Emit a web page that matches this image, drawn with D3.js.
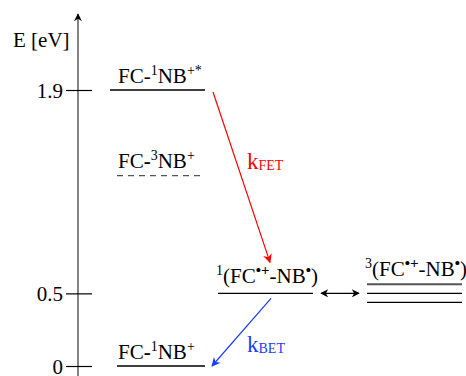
<!DOCTYPE html>
<html>
<head>
<meta charset="utf-8">
<script src="https://cdn.jsdelivr.net/npm/d3@7/dist/d3.min.js"></script>
<style>
  html, body { margin: 0; padding: 0; background: #fff; }
  svg text { font-family: "Liberation Serif", "DejaVu Serif", serif; }
</style>
</head>
<body>
<svg id="chart" width="466" height="376"></svg>
<script>
// Energy levels (eV)
const stateIds      = ["S1", "T1", "CSS1", "CSS3", "GS"];
const stateEnergies = [1.9, 1.31, 0.5, 0.5, 0];
const stateColumns  = ["left", "left", "mid", "right", "left"];
const stateStyles   = ["solid", "dashed", "solid", "triple", "solid"];
const tickValues    = [0, 0.5, 1.9];
const tickLabels    = ["0", "0.5", "1.9"];

// Transfer processes: [from, to]
const processNames = ["FET", "BET"];
const processFrom  = ["S1", "CSS1"];
const processTo    = ["CSS1", "GS"];

const FONT = "'Liberation Serif', 'DejaVu Serif', serif";
const FS = 21;
const svg = d3.select("#chart");

const y = d3.scaleLinear().domain([0, 1.9]).range([366, 90]);

// horizontal extents of each column of levels
const columns = {
  left:  { x0: 110, x1: 205 },
  mid:   { x0: 218, x1: 313 },
  right: { x0: 367, x1: 462 }
};
const colExtent = (id) => {
  const i = stateIds.indexOf(id);
  const c = columns[stateColumns[i]];
  if (id === "T1" || id === "GS") return { x0: 117, x1: 205 };
  return c;
};

// ---- axis ----
const axisX = 78;
const defs = svg.append("defs");
defs.append("marker")
  .attr("id", "axisHead").attr("viewBox", "0 0 10 10")
  .attr("refX", 9).attr("refY", 5)
  .attr("markerWidth", 8).attr("markerHeight", 10)
  .attr("markerUnits", "userSpaceOnUse").attr("orient", "auto")
  .append("path").attr("d", "M0,0 L10,5 L0,10 L3,5 Z").attr("fill", "#000");

svg.append("line")
  .attr("x1", axisX).attr("x2", axisX)
  .attr("y1", 376).attr("y2", 14)
  .attr("stroke", "#333").attr("stroke-width", 1.2)
  .attr("marker-end", "url(#axisHead)");

const axis = d3.axisLeft(y)
  .tickValues(tickValues)
  .tickFormat((d, i) => tickLabels[i])
  .tickSize(12)
  .tickPadding(3);

const gAxis = svg.append("g")
  .attr("transform", `translate(${axisX},0)`)
  .call(axis)
  .attr("font-family", FONT)
  .attr("font-size", FS);
gAxis.select(".domain").remove();
gAxis.selectAll(".tick line")
  .attr("x1", -12).attr("x2", 14)
  .attr("stroke", "#000").attr("stroke-width", 1.2);
gAxis.selectAll(".tick text")
  .attr("fill", "#000")
  .attr("dy", "0.35em");

svg.append("text")
  .attr("x", 13).attr("y", 47)
  .attr("font-family", FONT)
  .attr("font-size", FS)
  .text("E [eV]");

// ---- energy levels ----
stateIds.forEach((id, i) => {
  const e = colExtent(id);
  const yy = y(stateEnergies[i]);
  const style = stateStyles[i];
  if (style === "triple") {
    [-9, 0, 9].forEach((off, k) => {
      svg.append("line")
        .attr("x1", e.x0).attr("x2", e.x1)
        .attr("y1", yy + off).attr("y2", yy + off)
        .attr("stroke", k === 0 ? "#555" : "#000")
        .attr("stroke-width", k === 0 ? 2 : 1.3);
    });
  } else {
    svg.append("line")
      .attr("x1", e.x0).attr("x2", e.x1)
      .attr("y1", yy).attr("y2", yy)
      .attr("stroke", style === "dashed" ? "#555" : "#000")
      .attr("stroke-width", 1.3)
      .attr("stroke-dasharray", style === "dashed" ? "6,5" : null);
  }
});

// ---- level labels ----
// parts: [text, kind] where kind: n = normal, s = superscript, b = bold
function label(x, yb, parts, color) {
  const t = svg.append("text").attr("x", x).attr("y", yb)
    .attr("font-family", FONT)
    .attr("font-size", FS).attr("fill", color || "#000");
  let shift = 0;
  parts.forEach(([txt, kind]) => {
    const ts = t.append("tspan").text(txt);
    let target = 0;
    if (kind === "s") { ts.attr("font-size", 14); target = -8; }
    if (kind === "sb") { ts.attr("font-size", 15).attr("font-weight", "bold"); target = -8; }
    if (kind === "b") { ts.attr("font-weight", "bold"); }
    ts.attr("dy", target - shift);
    shift = target;
  });
  return t;
}

label(118, 83, [["FC-", "n"], ["1", "s"], ["NB", "n"], ["+*", "s"]]);
label(118, 168, [["FC", "n"], ["-", "b"], ["3", "s"], ["NB", "n"], ["+", "s"]]);
label(118, 359, [["FC", "n"], ["-", "b"], ["1", "s"], ["NB", "n"], ["+", "s"]]);
label(216, 283, [["1", "s"], ["(FC", "n"], ["•+", "sb"], ["-NB", "n"], ["•", "sb"], [")", "n"]]);
label(365, 276, [["3", "s"], ["(FC", "n"], ["•+", "sb"], ["-NB", "n"], ["•", "sb"], [")", "n"]]);

// ---- transfer arrows ----
const procColors = { FET: "#ff0000", BET: "#1a3cff" };
processNames.forEach((p) => {
  defs.append("marker")
    .attr("id", "head" + p).attr("viewBox", "0 0 10 10")
    .attr("refX", 9).attr("refY", 5)
    .attr("markerWidth", 11).attr("markerHeight", 9)
    .attr("markerUnits", "userSpaceOnUse").attr("orient", "auto")
    .append("path").attr("d", "M0,0 L10,5 L0,10 L3,5 Z")
    .attr("fill", procColors[p]);
});

const fetStart = { x: 213, y: y(1.9) + 2 };
const fetEnd   = { x: 270, y: y(0.5) - 31 };
const betStart = { x: 271, y: y(0.5) + 5 };
const betEnd   = { x: 212, y: y(0) };
const ends = { FET: [fetStart, fetEnd], BET: [betStart, betEnd] };

processNames.forEach((p) => {
  const [a, b] = ends[p];
  svg.append("line")
    .attr("x1", a.x).attr("y1", a.y).attr("x2", b.x).attr("y2", b.y)
    .attr("stroke", procColors[p]).attr("stroke-width", 1.2)
    .attr("marker-end", `url(#head${p})`);
});

function rateLabel(x, yb, sub, color) {
  const t = svg.append("text").attr("x", x).attr("y", yb).attr("fill", color)
    .attr("font-family", FONT)
    .attr("font-size", 23);
  t.append("tspan").text("k");
  t.append("tspan").text(sub).attr("font-size", 14).attr("dy", 1);
}
rateLabel(247, 169, "FET", procColors.FET);
rateLabel(247, 352, "BET", procColors.BET);

// ---- singlet/triplet interconversion ----
defs.append("marker")
  .attr("id", "dbl").attr("viewBox", "0 0 10 10")
  .attr("refX", 9).attr("refY", 5)
  .attr("markerWidth", 10).attr("markerHeight", 8)
  .attr("markerUnits", "userSpaceOnUse").attr("orient", "auto-start-reverse")
  .append("path").attr("d", "M0,0 L10,5 L0,10 L3,5 Z").attr("fill", "#000");

svg.append("line")
  .attr("x1", 321).attr("x2", 359)
  .attr("y1", y(0.5)).attr("y2", y(0.5))
  .attr("stroke", "#000").attr("stroke-width", 1.2)
  .attr("marker-start", "url(#dbl)").attr("marker-end", "url(#dbl)");
</script>
</body>
</html>
